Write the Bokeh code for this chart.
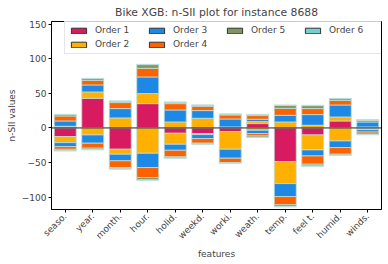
import math
import numpy as np
from bokeh.plotting import figure
from bokeh.models import FactorRange, Range1d, Span, Legend, LegendItem, FixedTicker
from bokeh.embed import file_html
from bokeh.resources import INLINE

features = ["seaso.", "year.", "month.", "hour.", "holid.", "weekd.",
            "worki.", "weath.", "temp.", "feel t.", "humid.", "winds."]

# order 1 (one signed value per feature)
order1 = [-12.5, 42.9, -30.8, 35.2, -7.7, -8.2, -5.3, 6.3, -48.7, -10.1, 10.1, -1.0]

# positive and negative parts for higher orders
order2_pos = [2.4, 9.2, 14.5, 14.5, 8.7, 14.0, 1.5, 2.9, 8.7, 3.9, 5.8, 1.4]
order2_neg = [-8.7, -10.1, -7.2, -36.6, -15.9, -1.4, -25.5, -3.4, -31.8, -21.7, -18.8, -1.5]
order3_pos = [7.7, 10.1, 13.5, 24.1, 17.3, 11.1, 11.5, 3.4, 9.6, 15.4, 17.3, 7.2]
order3_neg = [-5.8, -12.0, -9.6, -20.7, -8.7, -5.8, -13.0, -4.8, -18.8, -8.7, -9.6, -3.5]
order4_pos = [7.2, 6.7, 8.7, 12.5, 9.2, 6.3, 5.8, 5.3, 10.1, 8.7, 6.7, 2.4]
order4_neg = [-3.9, -7.2, -9.6, -14.5, -9.6, -6.7, -6.3, -3.4, -12.0, -12.0, -9.6, -3.0]
order5_pos = [2.0, 2.5, 2.0, 5.3, 2.0, 1.5, 1.2, 1.5, 4.3, 4.3, 2.5, 0.8]
order5_neg = [-2.0, -2.0, -2.0, -3.4, -1.5, -1.2, -0.8, -2.0, -2.5, -2.5, -1.5, -0.6]
order6_pos = [0.4, 0.4, 0.4, 0.5, 0.4, 0.4, 0.3, 0.3, 0.5, 0.5, 0.4, 0.2]
order6_neg = [-0.4, -0.4, -0.4, -0.5, -0.4, -0.3, -0.3, -0.3, -0.4, -0.4, -0.4, -0.2]

order_labels = ["Order 1", "Order 2", "Order 3", "Order 4", "Order 5", "Order 6"]
order_colors = ["#D81B60", "#FFB000", "#1E88E5", "#FE6100", "#7F975F", "#74CED2"]

y_ticks = [-100, -50, 0, 50, 100, 150]

FONT = "DejaVu Sans"

o1 = np.array(order1)
pos_parts = [np.clip(o1, 0, None), np.array(order2_pos), np.array(order3_pos),
             np.array(order4_pos), np.array(order5_pos), np.array(order6_pos)]
neg_parts = [np.clip(o1, None, 0), np.array(order2_neg), np.array(order3_neg),
             np.array(order4_neg), np.array(order5_neg), np.array(order6_neg)]

p = figure(width=388, height=264,
           x_range=FactorRange(*features),
           y_range=Range1d(-118, 154),
           output_backend="svg", toolbar_location=None,
           min_border_left=51, min_border_right=7,
           min_border_top=21, min_border_bottom=55)

p.title.text = "Bike XGB: n-SII plot for instance 8688"
p.title.text_font = FONT
p.title.text_font_size = "10.8px"
p.title.text_font_style = "normal"
p.title.align = "center"
p.title.standoff = 6
p.title.offset = 0

pos_base = np.zeros(len(features))
neg_base = np.zeros(len(features))
proxies = {}
for k in range(6):
    top = pos_base + pos_parts[k]
    p.vbar(x=features, bottom=pos_base, top=top, width=0.8,
           fill_color=order_colors[k], line_color="#bfe0da", line_width=0.8)
    # hidden twin used only for the legend swatch (dark edge like the reference)
    proxies[order_labels[k]] = p.vbar(x=features, bottom=pos_base, top=top, width=0.8,
                                      fill_color=order_colors[k], line_color="#333333",
                                      line_width=1, visible=False)
    pos_base = top
    bot = neg_base + neg_parts[k]
    p.vbar(x=features, bottom=neg_base, top=bot, width=0.8,
           fill_color=order_colors[k], line_color="#bfe0da", line_width=0.8)
    neg_base = bot

p.add_layout(Span(location=0, dimension="width", line_color="#222222", line_width=1))

legend_order = ["Order 1", "Order 3", "Order 5", "Order 6", "Order 2", "Order 4"]
legend = Legend(items=[LegendItem(label=l, renderers=[proxies[l]]) for l in legend_order],
                location=(13, 155), orientation="horizontal", ncols=4)
legend.label_text_font = FONT
legend.label_text_font_size = "9px"
legend.glyph_width = 19
legend.glyph_height = 7
legend.label_height = 9
legend.label_width = 48
legend.label_standoff = 7
legend.spacing = 4
legend.padding = 4
legend.margin = 0
legend.inactive_fill_alpha = 0
legend.border_line_color = "#cccccc"
legend.background_fill_alpha = 0.8
p.add_layout(legend)

p.xgrid.visible = False
p.ygrid.visible = False
p.outline_line_color = "black"
p.outline_line_alpha = 1

p.yaxis.ticker = FixedTicker(ticks=y_ticks)
p.yaxis.major_label_overrides = {t: (str(t).replace("-", "\u2212")) for t in y_ticks}
for ax in (p.xaxis[0], p.yaxis[0]):
    ax.major_label_text_font = FONT
    ax.major_label_text_font_size = "9px"
    ax.axis_label_text_font = FONT
    ax.axis_label_text_font_size = "9px"
    ax.axis_label_text_font_style = "normal"
    ax.axis_line_color = "black"
    ax.major_tick_line_color = "black"
    ax.minor_tick_line_color = None
    ax.major_tick_in = 0
    ax.major_tick_out = 3
    ax.major_label_standoff = 2
p.xaxis.axis_label = "features"
p.yaxis.axis_label = "n-SII values"
p.xaxis.major_label_orientation = math.pi / 4
p.xaxis.axis_label_standoff = 2
p.yaxis.axis_label_standoff = 2

open("out.html", "w").write(file_html(p, INLINE))
